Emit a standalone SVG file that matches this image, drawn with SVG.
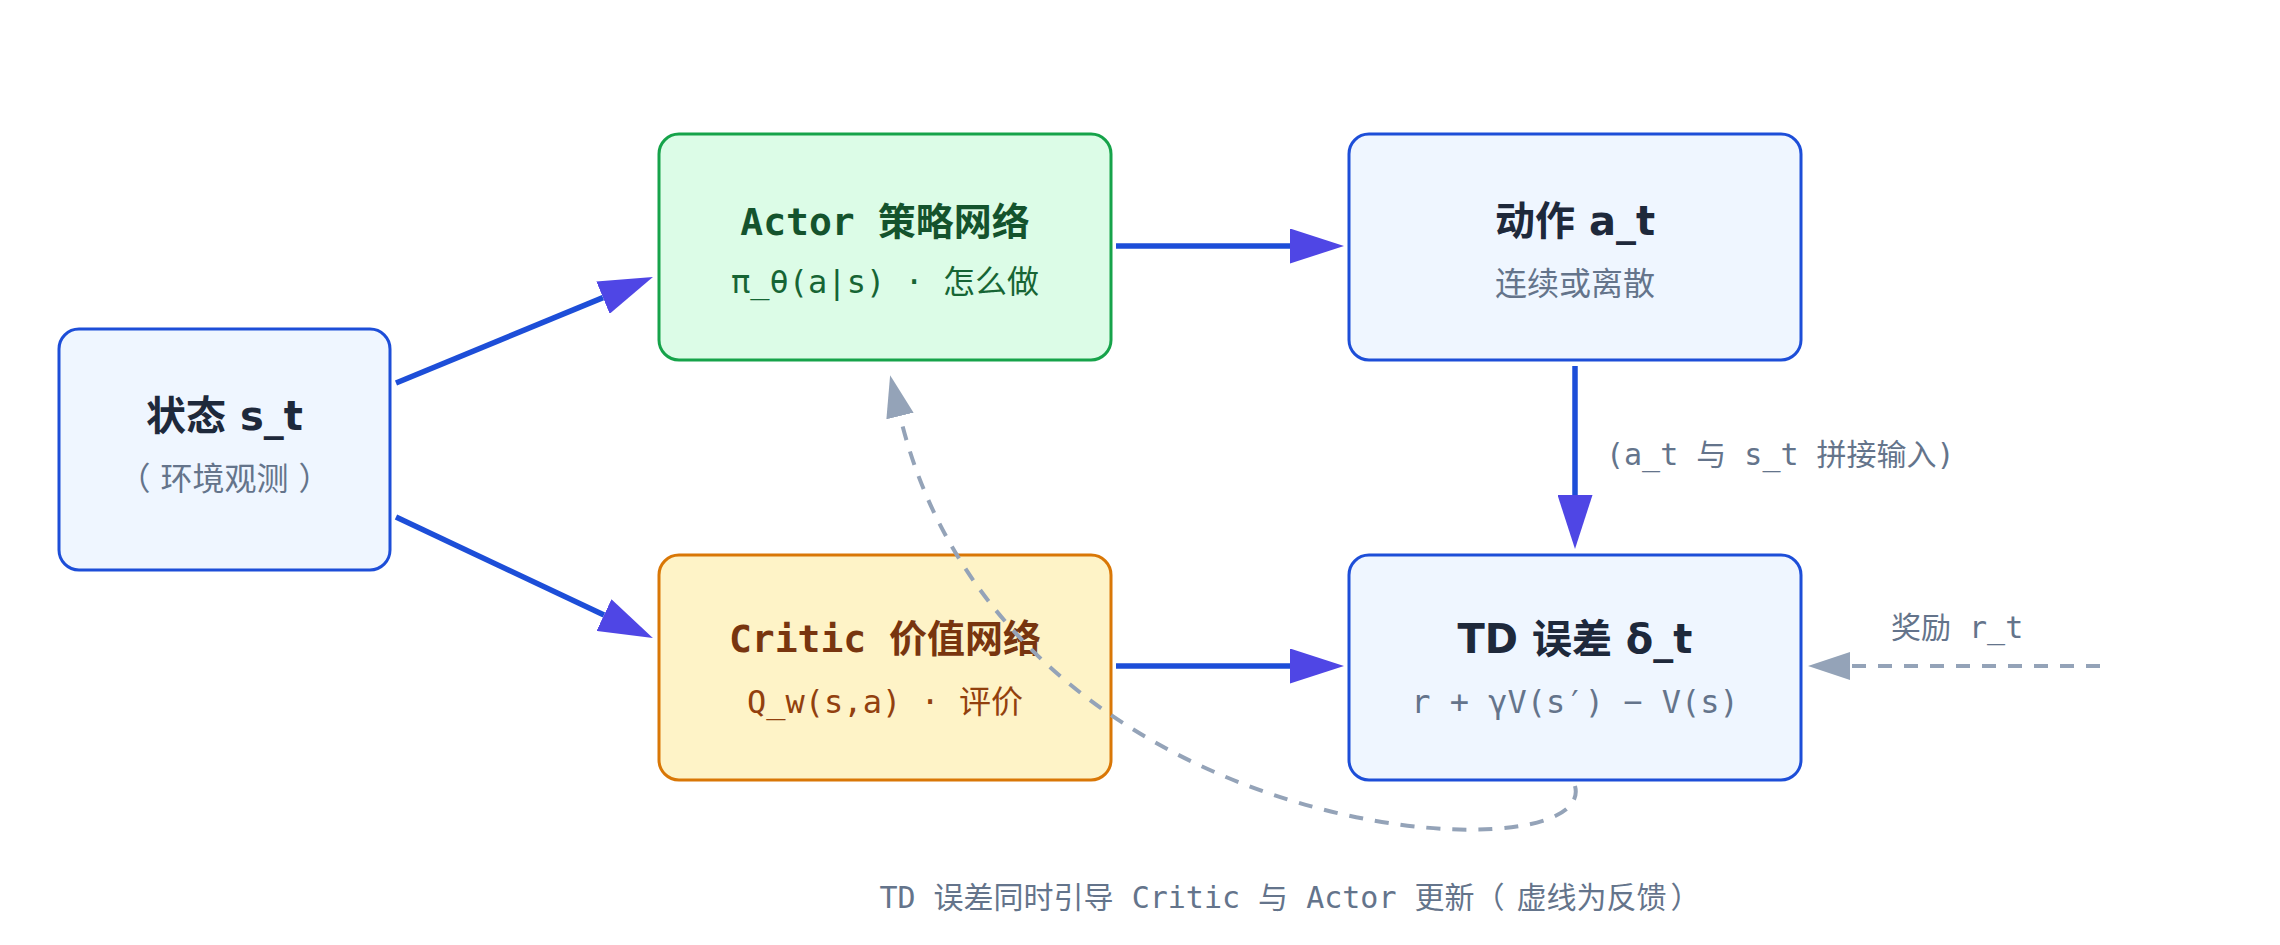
<svg xmlns="http://www.w3.org/2000/svg" width="2280" height="945" viewBox="0 0 2280 945">
<style>
.box{stroke-width:3}
.blue{fill:#eff6ff;stroke:#1d4ed8}
.green{fill:#dcfce7;stroke:#16a34a}
.amber{fill:#fef3c7;stroke:#d97706}
.t{font-family:"DejaVu Sans","Noto Sans CJK SC",sans-serif;font-weight:bold;font-size:40px;text-anchor:middle;fill:#1e293b}
.tm{font-family:"DejaVu Sans Mono","Noto Sans CJK SC",monospace;font-weight:bold;font-size:38px;text-anchor:middle}
.s{font-family:"Noto Sans CJK SC",sans-serif;font-size:32px;text-anchor:middle;fill:#64748b}
.cjk{font-family:"Noto Sans CJK SC",sans-serif}
.sm{font-family:"DejaVu Sans Mono","Noto Sans CJK SC",monospace;font-size:32px;text-anchor:middle}
.lbl{font-family:"DejaVu Sans Mono","Noto Sans CJK SC",monospace;font-size:30px;fill:#64748b}
.fl{fill:none;stroke:#1d4ed8;stroke-width:5.5}
.dash{fill:none;stroke:#94a3b8;stroke-width:4;stroke-dasharray:14 12}
</style>
<defs>
<marker id="ah" markerUnits="userSpaceOnUse" markerWidth="54" markerHeight="35" viewBox="0 0 54 35" refX="0" refY="17.5" orient="auto">
<path d="M0,0 L54,17.5 L0,35 Z" fill="#4f46e5"/>
</marker>
<marker id="ahg" markerUnits="userSpaceOnUse" markerWidth="42" markerHeight="28" viewBox="0 0 42 28" refX="0" refY="14" orient="auto">
<path d="M0,0 L42,14 L0,28 Z" fill="#94a3b8"/>
</marker>
</defs>
<rect width="2280" height="945" fill="#ffffff"/>
<g id="state">
<rect class="box blue" x="59" y="329" width="331" height="241" rx="20"/>
<text class="t" x="224.5" y="430">状态 s_t</text>
<text class="s" x="224.5" y="490">（<tspan dx="10">环境观测</tspan><tspan dx="10">）</tspan></text>
</g>
<g id="actor">
<rect class="box green" x="659" y="134" width="452" height="226" rx="20"/>
<text class="tm" x="885" y="235" fill="#14532d">Actor 策略网络</text>
<text class="sm" x="885" y="293" fill="#166534">π_θ(a|s) · 怎么做</text>
</g>
<g id="action">
<rect class="box blue" x="1349" y="134" width="452" height="226" rx="20"/>
<text class="t" x="1575" y="235">动作 a_t</text>
<text class="s" x="1575" y="295">连续或离散</text>
</g>
<g id="critic">
<rect class="box amber" x="659" y="555" width="452" height="225" rx="20"/>
<text class="tm" x="885" y="652" fill="#78350f">Critic 价值网络</text>
<text class="sm" x="885" y="713" fill="#92400e">Q_w(s,a) · 评价</text>
</g>
<g id="td">
<rect class="box blue" x="1349" y="555" width="452" height="225" rx="20"/>
<text class="t" x="1575" y="653">TD 误差 δ_t</text>
<text class="sm" x="1575" y="713" fill="#64748b">r + γV(s′) − V(s)</text>
</g>
<g id="connectors">
<line class="fl" x1="396" y1="383" x2="603" y2="297.6" marker-end="url(#ah)"/>
<line class="fl" x1="396" y1="517" x2="604" y2="615" marker-end="url(#ah)"/>
<line class="fl" x1="1116" y1="246" x2="1290" y2="246" marker-end="url(#ah)"/>
<line class="fl" x1="1116" y1="666" x2="1290" y2="666" marker-end="url(#ah)"/>
<line class="fl" x1="1575" y1="366" x2="1575" y2="495" marker-end="url(#ah)"/>
<line class="dash" x1="2100" y1="666" x2="1850" y2="666" marker-end="url(#ahg)"/>
<path class="dash" d="M1575,786 C1600,880 1005,850 900,416" marker-end="url(#ahg)"/>
<text class="lbl" x="1606" y="465">(a_t 与 s_t 拼接输入)</text>
<text class="lbl" x="1891" y="638">奖励 r_t</text>
</g>
<text class="lbl" x="1290" y="908" text-anchor="middle">TD 误差同时引导 Critic 与 Actor 更新<tspan class="cjk">（</tspan><tspan class="cjk" dx="12">虚线为反馈</tspan><tspan class="cjk" dx="4">）</tspan></text>
</svg>
